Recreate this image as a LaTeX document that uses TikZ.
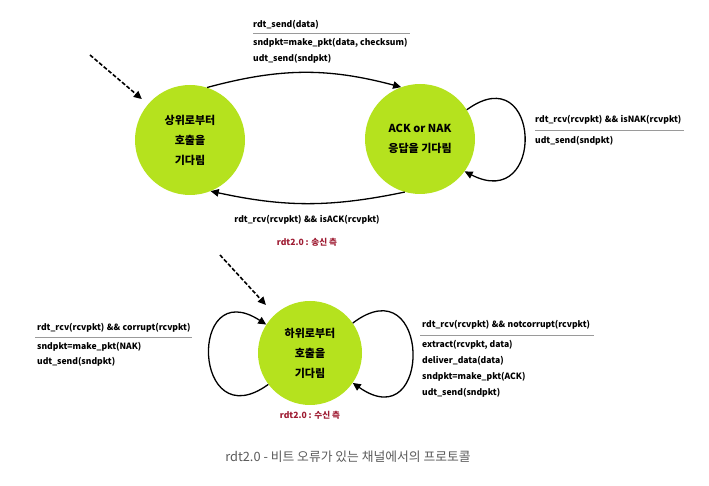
\documentclass[tikz,border=0pt]{standalone}
\usepackage{fontspec}
\setmainfont{Noto Sans CJK KR}
\usetikzlibrary{arrows.meta}
\definecolor{stategreen}{HTML}{B5E21E}
\definecolor{sidered}{HTML}{9E1B32}
\definecolor{capgray}{HTML}{5A5A5A}
\definecolor{rulegray}{HTML}{9A9A9A}
\newcommand{\andand}{\hspace{2.5pt}\&\&\hspace{2.5pt}}
\tikzset{
  state/.style={circle,fill=stategreen,draw=none,minimum size=110pt,inner sep=0pt,
    align=center,font=\fontsize{11}{20}\selectfont\bfseries},
  smallstate/.style={state,minimum size=104pt},
  lbl/.style={anchor=west,inner sep=0pt,font=\fontsize{8.6}{10}\selectfont\bfseries},
  clbl/.style={lbl,anchor=center},
  side/.style={clbl,text=sidered},
  trans/.style={line width=1.3pt,-{Triangle[length=8pt,width=7.5pt]}},
  init/.style={trans,dash pattern=on 4pt off 2pt,line width=1.6pt},
  sep/.style={rulegray,line width=0.9pt}
}
\begin{document}
\begin{tikzpicture}[x=1pt,y=1pt]
\useasboundingbox (0,0) rectangle (709,486);
% states
\node[state] (c1) at (190,346) {상위로부터\\호출을\\기다림};
\node[state] (c2) at (420,347) {ACK or NAK\\응답을 기다림};
\node[smallstate] (c3) at (310,133) {하위로부터\\호출을\\기다림};
% initial arrows
\coordinate (s1) at (90,431);
\coordinate (s3) at (220,231);
\draw[init,shorten >=8pt] (s1) -- (c1);
\draw[init,shorten >=13pt] (s3) -- (c3);
% transitions
\draw[trans] (c1.72) to[bend left=15] (c2.110);
\draw[trans] (c2.-106) to[bend left=12] (c1.-68);
\draw[trans] (c2.32) to[out=36,in=-27,looseness=3.8] (c2.-36);
\draw[trans] (c3.-143) to[out=-144,in=147,looseness=4.0] (c3.147);
\draw[trans] (c3.35) to[out=37,in=-35,looseness=4.2] (c3.-35);
% top label
\node[lbl] (t1) at (253,461) {rdt\_send(data)};
\coordinate (t1a) at (253,453); \coordinate (t1b) at (410,453);
\draw[sep] (t1a) -- (t1b);
\node[lbl] (t2) at (253,443) {sndpkt=make\_pkt(data, checksum)};
\node[lbl] (t3) at (253,427) {udt\_send(sndpkt)};
% NAK label
\node[lbl] (n1) at (535,366) {rdt\_rcv(rcvpkt)\andand isNAK(rcvpkt)};
\coordinate (n1a) at (535,356); \coordinate (n1b) at (684,356);
\draw[sep] (n1a) -- (n1b);
\node[lbl] (n2) at (535,345) {udt\_send(sndpkt)};
% ACK label
\node[clbl] (a1) at (307,266) {rdt\_rcv(rcvpkt)\andand isACK(rcvpkt)};
\node[side] (snd) at (307,244) {rdt2.0 : 송신 측};
% corrupt label
\node[lbl] (k1) at (37,158) {rdt\_rcv(rcvpkt)\andand corrupt(rcvpkt)};
\coordinate (k1a) at (35,149); \coordinate (k1b) at (192,149);
\draw[sep] (k1a) -- (k1b);
\node[lbl] (k2) at (37,139) {sndpkt=make\_pkt(NAK)};
\node[lbl] (k3) at (37,124) {udt\_send(sndpkt)};
% notcorrupt label
\node[lbl] (r1) at (422,161) {rdt\_rcv(rcvpkt)\andand notcorrupt(rcvpkt)};
\coordinate (r1a) at (420,151); \coordinate (r1b) at (594,151);
\draw[sep] (r1a) -- (r1b);
\node[lbl] (r2) at (422,141) {extract(rcvpkt, data)};
\node[lbl] (r3) at (422,125) {deliver\_data(data)};
\node[lbl] (r4) at (422,109) {sndpkt=make\_pkt(ACK)};
\node[lbl] (r5) at (422,93) {udt\_send(sndpkt)};
\node[side] (rcv) at (310,71) {rdt2.0 : 수신 측};
% caption
\node[inner sep=0pt,text=capgray,font=\fontsize{12.8}{15}\selectfont] (cap) at (348,29) {rdt2.0 - 비트 오류가 있는 채널에서의 프로토콜};
\end{tikzpicture}
\end{document}
